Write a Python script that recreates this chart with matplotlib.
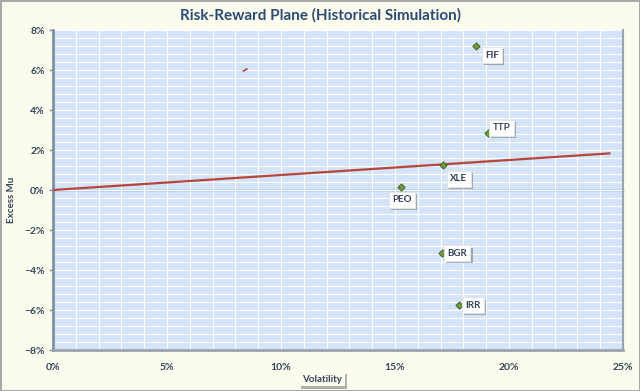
import matplotlib
matplotlib.use("Agg")
import matplotlib.pyplot as plt
from matplotlib.ticker import PercentFormatter, MultipleLocator, NullFormatter
import matplotlib.patheffects as pe

# ---- data ----
tickers = ["FIF", "TTP", "XLE", "PEO", "BGR", "IRR"]
volatility = [0.1855, 0.1910, 0.1710, 0.1525, 0.1707, 0.1780]
excess_mu = [0.0720, 0.0285, 0.0127, 0.0017, -0.0317, -0.0577]
cml_vol = [0.0, 0.244]
cml_mu = [0.0, 0.0183]
stray_vol = [0.0835, 0.0850]
stray_mu = [0.0595, 0.0605]
x_ticks = [0.0, 0.05, 0.10, 0.15, 0.20, 0.25]
y_ticks = [-0.08, -0.06, -0.04, -0.02, 0.0, 0.02, 0.04, 0.06, 0.08]

# label offsets in pixels (style)
label_offsets = {"FIF": (16, -9), "TTP": (13, 5), "XLE": (16, -14),
                 "PEO": (1, -13), "BGR": (15, 0), "IRR": (14, 0)}

plt.rcParams["font.family"] = ["Lato", "DejaVu Sans"]
plt.rcParams["font.weight"] = "bold"
text_col = "#34445A"
title_col = "#2B4A74"

fig = plt.figure(figsize=(6.4, 3.91), dpi=100)
fig.patch.set_facecolor("#FBFBEE")
fig.patch.set_edgecolor("#A8A8A8")
fig.patch.set_linewidth(2.0)

ax = fig.add_axes([53 / 640, 1 - 350 / 391, 570 / 640, 320 / 391])
ax.set_facecolor("#D3E3F8")
ax.set_xlim(0, 0.25)
ax.set_ylim(-0.08, 0.08)
ax.set_xticks(x_ticks)
ax.set_yticks(y_ticks)
ax.xaxis.set_minor_locator(MultipleLocator(0.01))
ax.yaxis.set_minor_locator(MultipleLocator(0.004))
ax.grid(True, which="both", color="white", linewidth=0.8)
ax.set_axisbelow(True)
ax.xaxis.set_major_formatter(PercentFormatter(xmax=1, decimals=0))
ax.yaxis.set_major_formatter(PercentFormatter(xmax=1, decimals=0))
ax.tick_params(axis="x", which="both", length=0, pad=9, labelsize=7.5,
               labelcolor=text_col)
ax.tick_params(axis="y", which="major", length=3, width=1, color="#8090A4",
               labelsize=7.5, labelcolor=text_col, pad=3)
ax.tick_params(axis="y", which="minor", length=0)
ax.spines["top"].set_visible(False)
ax.spines["left"].set_color("#8090A4")
ax.spines["left"].set_linewidth(2.0)
ax.spines["bottom"].set_color("#9AA3AE")
ax.spines["bottom"].set_linewidth(2.0)
ax.spines["right"].set_color("#9AA3AE")
ax.spines["right"].set_linewidth(1.5)

# zero axis line with ticks
sec = ax.secondary_xaxis(0.5)
sec.set_xticks(x_ticks)
sec.xaxis.set_major_formatter(NullFormatter())
sec.tick_params(axis="x", length=3, direction="inout", color="#5B7FB5",
                labelbottom=False, labeltop=False)
for s in sec.spines.values():
    s.set_color("#5B7FB5")
    s.set_linewidth(1.0)

# capital market line
ax.plot(cml_vol, cml_mu, color="#B8453A", linewidth=1.6, zorder=3)
ax.plot(stray_vol, stray_mu, color="#B8453A", linewidth=1.2, zorder=3)

# points
ax.scatter(volatility, excess_mu, marker="D", s=14, color="#6F9A3A",
           edgecolor="#3E5A22", linewidth=0.6, zorder=4)

for t, x, y in zip(tickers, volatility, excess_mu):
    dx, dy = label_offsets[t]
    ann = ax.annotate(t, (x, y), xytext=(dx, dy), textcoords="offset pixels",
                      ha="center", va="center", fontsize=7,
                      fontweight="bold", color=text_col, zorder=5,
                      bbox=dict(boxstyle="square,pad=0.35", fc="white",
                                ec="#E0E0E0", lw=0.5))
    ann.get_bbox_patch().set_path_effects([
        pe.withSimplePatchShadow(offset=(1.5, -1.5), shadow_rgbFace="#808080",
                                 alpha=0.6), pe.Normal()])

fig.text(320 / 640, 1 - 15 / 391, "Risk-Reward Plane (Historical Simulation)",
         ha="center", va="center", fontsize=11, fontweight="bold",
         color=title_col)

vl = fig.text(322 / 640, 1 - 379 / 391, "Volatility", ha="center", va="center",
              fontsize=7, fontweight="bold", color=text_col,
              bbox=dict(boxstyle="square,pad=0.3", fc="#FBFBEE", ec="none"))
vl.get_bbox_patch().set_path_effects([
    pe.withSimplePatchShadow(offset=(1.5, -1.5), shadow_rgbFace="#808080",
                             alpha=0.6), pe.Normal()])

fig.text(12 / 640, 1 - 200 / 391, "Excess Mu", ha="center", va="center",
         rotation=90, fontsize=7, fontweight="bold", color=text_col)

fig.savefig("out.png", dpi=100, facecolor=fig.get_facecolor(),
            edgecolor=fig.get_edgecolor())
